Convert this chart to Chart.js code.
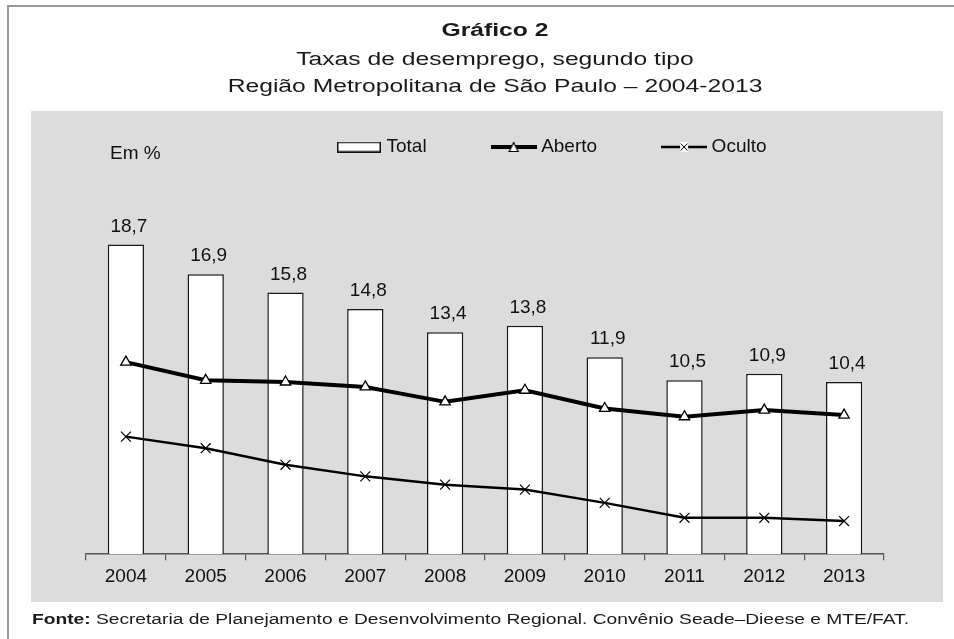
<!DOCTYPE html>
<html>
<head>
<meta charset="utf-8">
<script src="https://cdn.jsdelivr.net/npm/chart.js@4.4.1/dist/chart.umd.min.js"></script>
<style>
  html, body { margin: 0; padding: 0; background: #fff; }
  #wrap { width: 954px; height: 639px; }
</style>
</head>
<body>
<div id="wrap"><canvas id="grafico" width="954" height="639"></canvas></div>
<script>
const anos = ["2004", "2005", "2006", "2007", "2008", "2009", "2010", "2011", "2012", "2013"];
const total = [18.7, 16.9, 15.8, 14.8, 13.4, 13.8, 11.9, 10.5, 10.9, 10.4];
const aberto = [11.6, 10.5, 10.4, 10.1, 9.2, 9.9, 8.8, 8.3, 8.7, 8.4];
const oculto = [7.1, 6.4, 5.4, 4.7, 4.2, 3.9, 3.1, 2.2, 2.2, 2.0];

const titulo = "Gráfico 2";
const subtitulo = ["Taxas de desemprego, segundo tipo", "Região Metropolitana de São Paulo – 2004-2013"];
const fonteRotulo = "Fonte:";
const fonteTexto = " Secretaria de Planejamento e Desenvolvimento Regional. Convênio Seade–Dieese e MTE/FAT.";
const unidade = "Em %";

const FONT = "'Liberation Sans', Arial, sans-serif";
const STRETCH = 1.37; // titulo e fonte estao esticados na horizontal

const fmt = (v) => v.toFixed(1).replace(".", ",");

// icones da legenda
const makeIcon = (w, h, draw) => {
  const c = document.createElement("canvas");
  c.width = w;
  c.height = h;
  draw(c.getContext("2d"), w, h);
  return c;
};

const iconTotal = makeIcon(44, 11, (ctx) => {
  ctx.fillStyle = "#fff";
  ctx.fillRect(0.75, 0.75, 42.5, 9.5);
  ctx.strokeStyle = "#111";
  ctx.lineWidth = 1.5;
  ctx.strokeRect(0.75, 0.75, 42.5, 9.5);
});

const iconAberto = makeIcon(46, 12, (ctx, w) => {
  ctx.strokeStyle = "#000";
  ctx.lineWidth = 4;
  ctx.beginPath();
  ctx.moveTo(0, 6);
  ctx.lineTo(w, 6);
  ctx.stroke();
  ctx.fillStyle = "#fff";
  ctx.lineWidth = 1.2;
  ctx.beginPath();
  ctx.moveTo(23, 1.5);
  ctx.lineTo(27.5, 10.5);
  ctx.lineTo(18.5, 10.5);
  ctx.closePath();
  ctx.fill();
  ctx.stroke();
});

const iconOculto = makeIcon(46, 12, (ctx, w) => {
  ctx.strokeStyle = "#000";
  ctx.lineWidth = 2.5;
  ctx.beginPath();
  ctx.moveTo(0, 6);
  ctx.lineTo(w, 6);
  ctx.stroke();
  ctx.fillStyle = "#fff";
  ctx.fillRect(19, 1, 8, 10);
  ctx.lineWidth = 1;
  ctx.beginPath();
  ctx.moveTo(19.5, 2.5);
  ctx.lineTo(26.5, 9.5);
  ctx.moveTo(26.5, 2.5);
  ctx.lineTo(19.5, 9.5);
  ctx.stroke();
});

const icones = [iconTotal, iconAberto, iconOculto];

const stretchText = (ctx, text, x, y, font, align) => {
  ctx.save();
  ctx.font = font;
  ctx.textAlign = align;
  ctx.textBaseline = "alphabetic";
  ctx.translate(x, y);
  ctx.scale(STRETCH, 1);
  ctx.fillText(text, 0, 0);
  ctx.restore();
};

// fundo, moldura, titulo e fonte
const moldura = {
  id: "moldura",
  beforeDraw(chart) {
    const ctx = chart.ctx;
    ctx.save();
    ctx.fillStyle = "#fff";
    ctx.fillRect(0, 0, chart.width, chart.height);
    ctx.strokeStyle = "#9a9a9a";
    ctx.lineWidth = 2;
    ctx.beginPath();
    ctx.moveTo(8, chart.height);
    ctx.lineTo(8, 6);
    ctx.lineTo(chart.width, 6);
    ctx.stroke();
    ctx.fillStyle = "#dcdcdd";
    ctx.fillRect(31, 111, 912, 491);

    ctx.fillStyle = "#1a1a1a";
    stretchText(ctx, titulo, 495, 36, `bold 18px ${FONT}`, "center");
    stretchText(ctx, subtitulo[0], 495, 65, `18px ${FONT}`, "center");
    stretchText(ctx, subtitulo[1], 495, 92, `18px ${FONT}`, "center");

    ctx.font = `bold 14px ${FONT}`;
    const w = ctx.measureText(fonteRotulo).width * STRETCH;
    stretchText(ctx, fonteRotulo, 32, 624, `bold 14px ${FONT}`, "left");
    stretchText(ctx, fonteTexto, 32 + w, 624, `14px ${FONT}`, "left");
    ctx.restore();
  },
};

// posicao da legenda
const posLegenda = {
  id: "posLegenda",
  afterLayout(chart) {
    const lg = chart.legend;
    const pad = lg.options.labels.padding;
    const w = lg.width;
    const h = lg.height;
    lg.left = 341 - pad;
    lg.right = lg.left + w;
    lg.top = 147 - 9.5 - pad;
    lg.bottom = lg.top + h;
  },
};

// rotulos das barras e unidade
const rotulos = {
  id: "rotulos",
  afterDatasetsDraw(chart) {
    const ctx = chart.ctx;
    const meta = chart.getDatasetMeta(0);
    ctx.save();
    ctx.font = `19px ${FONT}`;
    ctx.fillStyle = "#111";
    ctx.textBaseline = "alphabetic";
    ctx.textAlign = "center";
    meta.data.forEach((bar, i) => {
      ctx.fillText(fmt(total[i]), bar.x + 3, bar.y - 13);
    });
    ctx.textAlign = "left";
    ctx.fillText(unidade, 110, 159);
    ctx.restore();
  },
};

new Chart(document.getElementById("grafico"), {
  type: "bar",
  data: {
    labels: anos,
    datasets: [
      {
        type: "bar",
        label: "Total",
        data: total,
        backgroundColor: "#fff",
        borderColor: "#1a1a1a",
        borderWidth: 1.5,
        barPercentage: 0.455,
        categoryPercentage: 1,
        order: 3,
      },
      {
        type: "line",
        label: "Aberto",
        data: aberto,
        borderColor: "#000",
        borderWidth: 4,
        pointStyle: "triangle",
        pointRadius: 6,
        pointBackgroundColor: "#fff",
        pointBorderColor: "#000",
        pointBorderWidth: 1.3,
        tension: 0,
        order: 1,
      },
      {
        type: "line",
        label: "Oculto",
        data: oculto,
        borderColor: "#000",
        borderWidth: 2.5,
        pointStyle: "crossRot",
        pointRadius: 7,
        pointBorderColor: "#000",
        pointBorderWidth: 1.2,
        tension: 0,
        order: 2,
      },
    ],
  },
  options: {
    responsive: false,
    animation: false,
    devicePixelRatio: 1,
    layout: { padding: { left: 86, right: 70, top: 125, bottom: 46 } },
    scales: {
      x: {
        grid: { drawOnChartArea: false, drawTicks: true, tickLength: 6, color: "#555", lineWidth: 1.2 },
        border: { color: "#555", width: 1.5 },
        ticks: { font: { family: FONT, size: 19 }, color: "#111", padding: 5, maxRotation: 0 },
      },
      y: { display: false, min: 0, max: 20 },
    },
    plugins: {
      legend: {
        position: "top",
        align: "start",
        labels: {
          font: { family: FONT, size: 19 },
          color: "#111",
          usePointStyle: true,
          pointStyleWidth: 36,
          padding: 69,
          generateLabels: (chart) =>
            chart.data.datasets.map((ds, i) => ({
              text: ds.label,
              pointStyle: icones[i],
              datasetIndex: i,
              hidden: false,
              lineWidth: 0,
              fontColor: "#111",
            })),
        },
      },
      tooltip: { enabled: false },
    },
  },
  plugins: [moldura, posLegenda, rotulos],
});
</script>
</body>
</html>
